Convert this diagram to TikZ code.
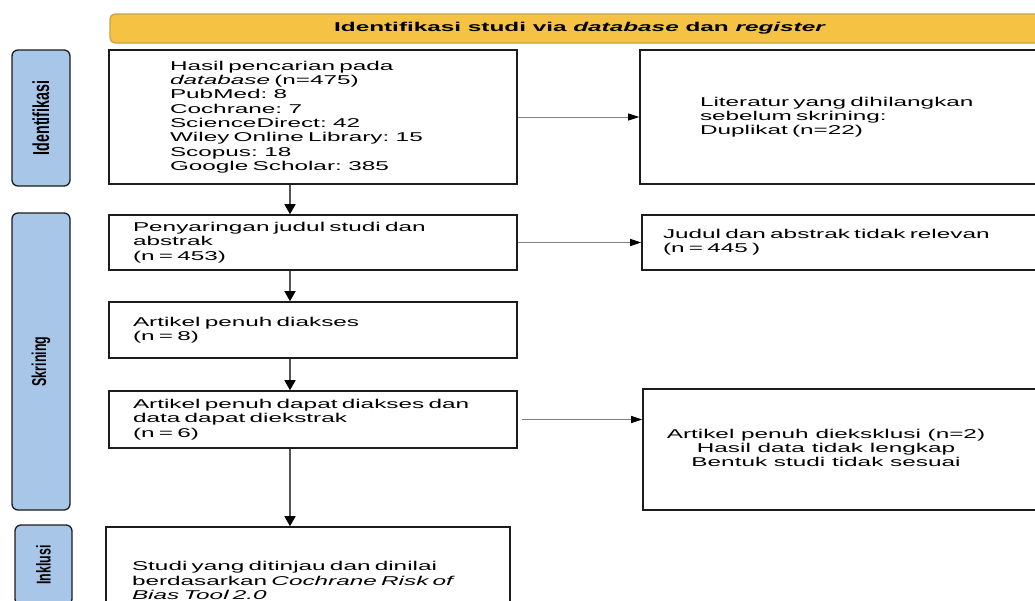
\documentclass[tikz,border=0pt]{standalone}
\usepackage{fontspec}
\setmainfont{Liberation Sans}[FakeStretch=1.9]
\newfontfamily\stagefont{Liberation Sans}[FakeStretch=0.62]
\usetikzlibrary{arrows.meta,positioning,calc}
\definecolor{PrismaGold}{HTML}{F5C244}
\definecolor{PrismaGoldLine}{HTML}{C9A24A}
\definecolor{PrismaBlue}{HTML}{A8C6E8}
\definecolor{PrismaInk}{HTML}{1C1C1C}
\definecolor{PrismaWire}{HTML}{555555}

\begin{document}
\begin{tikzpicture}[x=1pt, y=-1pt, line width=1pt,
  font=\fontsize{12.8}{14.3}\selectfont,
  headbar/.style={rounded corners=5pt, draw=PrismaGoldLine, line width=1.3pt, fill=PrismaGold, minimum width=940pt, minimum height=29pt, inner sep=0pt, font=\fontsize{12.8}{14.3}\selectfont\bfseries},
  stagebox/.style={rounded corners=6pt, draw=PrismaInk, line width=1.3pt, fill=PrismaBlue, rotate=90, minimum height=58pt, inner sep=0pt, font=\stagefont\bfseries\fontsize{20}{22}\selectfont},
  flowbox/.style={draw=PrismaInk, line width=1.6pt, fill=white, align=left, inner ysep=0pt},
  vflow/.style={-{Triangle[length=10pt,width=11pt,color=black]}, draw=PrismaWire, line width=1.4pt},
  hflow/.style={-{Triangle[length=11pt,width=7pt,color=black]}, draw=PrismaWire!75, line width=0.8pt}]

\useasboundingbox (0,0) rectangle (1035,600);
\clip (0,0) rectangle (1035,600);
\fill[white] (0,0) rectangle (1035,600);

\node[headbar] (head) at (580,28.5) {Identifikasi studi via \textit{database} dan \textit{register}};

\node[stagebox, minimum width=136pt, font=\stagefont\bfseries\fontsize{23}{25}\selectfont] (lblid) at (41,118) {Identifikasi};
\node[stagebox, minimum width=297pt] (lblscr) at (41,361.5) {Skrining};
\node[stagebox, minimum width=80pt, minimum height=57pt] (lblinc) at (43.5,565) {Inklusi};

\node[flowbox, text width=286pt, inner xsep=61pt, minimum height=134pt] (search) at (313,117) {Hasil pencarian pada\\\textit{database} (n=475)\\PubMed: 8\\Cochrane: 7\\ScienceDirect: 42\\Wiley Online Library: 15\\Scopus: 18\\Google Scholar: 385};
\node[flowbox, text width=300pt, inner xsep=60pt, minimum height=134pt] (dup) at (850,117) {Literatur yang dihilangkan\\sebelum skrining:\\Duplikat (n=22)};

\node[flowbox, text width=360pt, inner xsep=24pt, minimum height=55pt] (screen) at (313,242.5) {Penyaringan judul studi dan\\abstrak\\(n = 453)};
\node[flowbox, text width=376pt, inner xsep=21pt, minimum height=55pt] (irrel) at (851,242.5) {Judul dan abstrak tidak relevan\\(n = 445 )};

\node[flowbox, text width=360pt, inner xsep=24pt, minimum height=56pt] (fulltext) at (313,330) {Artikel penuh diakses\\(n = 8)};

\node[flowbox, text width=360pt, inner xsep=24pt, minimum height=57pt] (eligible) at (313,419.5) {Artikel penuh dapat diakses dan\\data dapat diekstrak\\(n = 6)};
\node[flowbox, inner xsep=0pt, minimum width=417pt, minimum height=121pt] (excluded) at (851.5,449.5) {\begin{tabular}{@{}c@{\hspace{51pt}}}Artikel penuh dieksklusi (n=2)\\Hasil data tidak lengkap\\Bentuk studi tidak sesuai\end{tabular}};

\node[flowbox, text width=352pt, inner xsep=26pt, minimum height=107pt] (included) at (308,580.5) {Studi yang ditinjau dan dinilai\\berdasarkan \textit{Cochrane Risk of}\\\textit{Bias Tool 2.0}};

\coordinate (spine) at (290,0);
\foreach \a/\b in {search/screen, screen/fulltext, fulltext/eligible, eligible/included}{\draw[vflow] (\a.south -| spine) -- (\b.north -| spine);}

\draw[hflow] (search) -- (dup);
\draw[hflow] (screen) -- (irrel);
\draw[hflow, shorten <=4pt] (eligible.east) -- (eligible.east -| excluded.west);
\end{tikzpicture}
\end{document}
